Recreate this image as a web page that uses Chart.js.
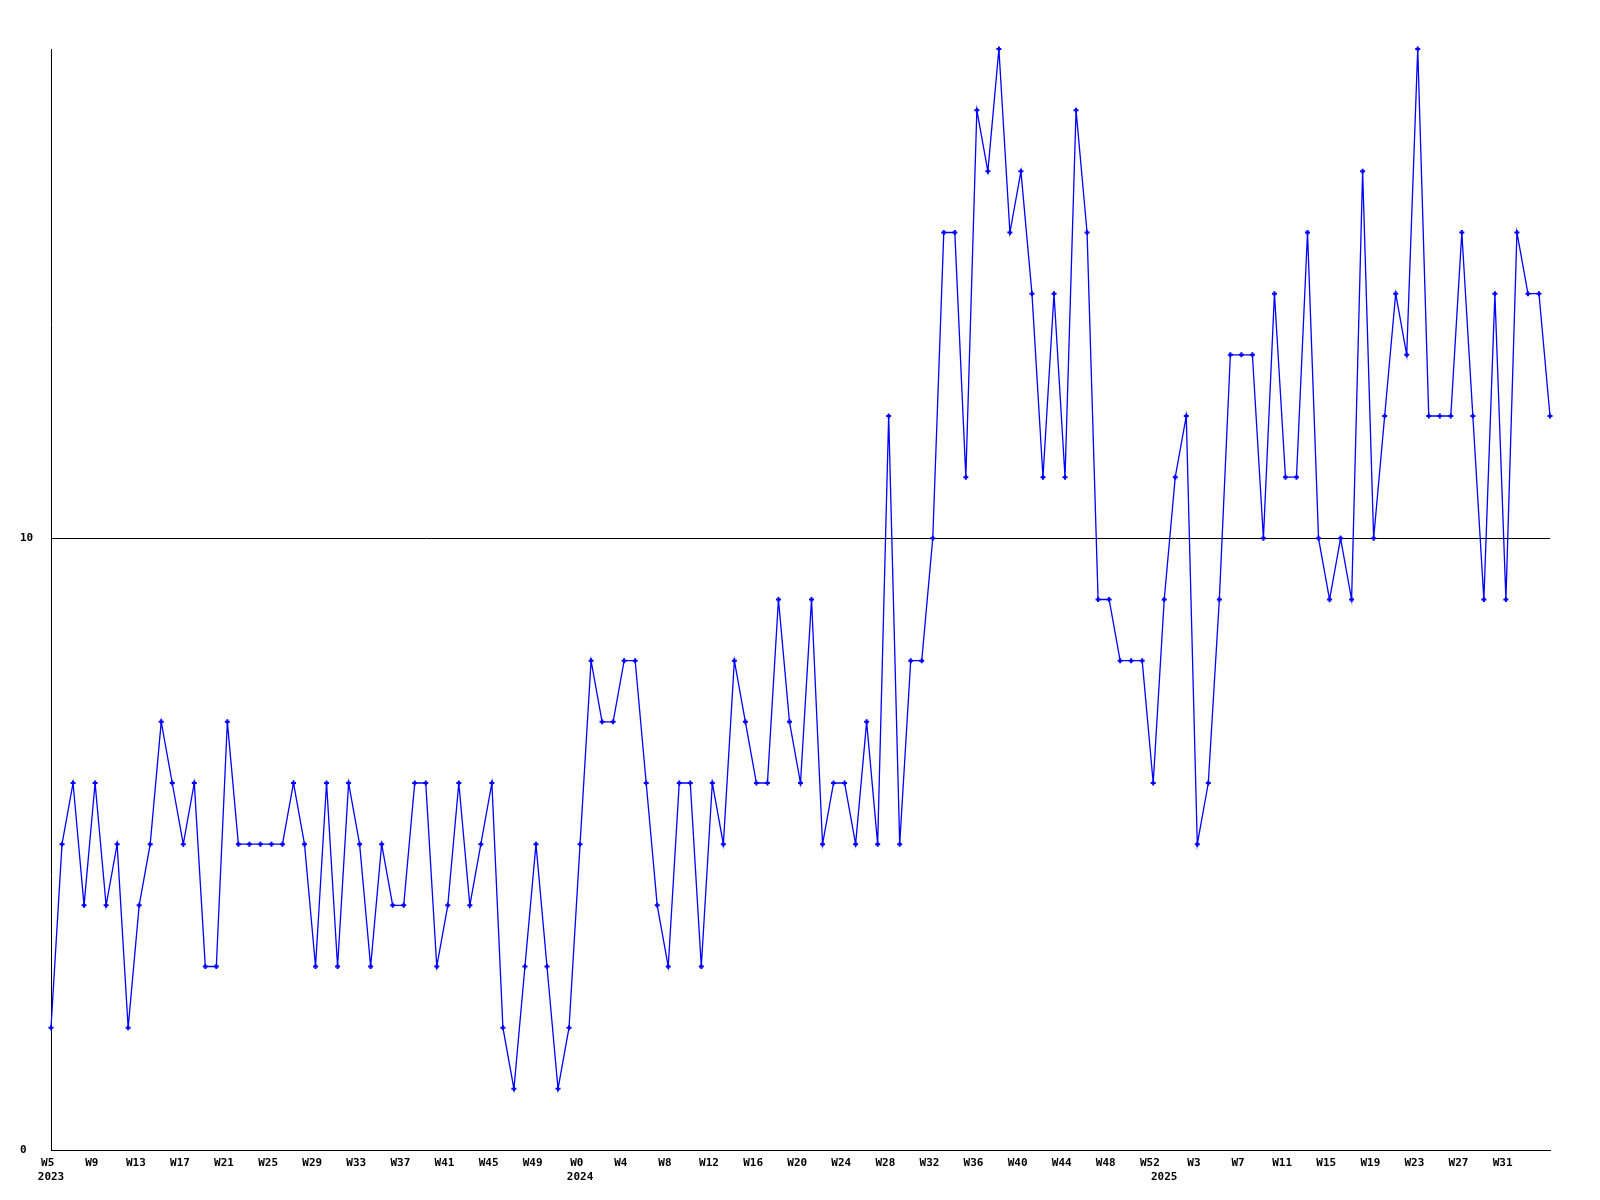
<!DOCTYPE html>
<html>
<head>
<meta charset="utf-8">
<script src="https://cdn.jsdelivr.net/npm/chart.js@4/dist/chart.umd.min.js"></script>
<style>
    body { margin: 0; background: #fff; }
    #myChart { display: block; }
</style>
</head>
<body>
<canvas id="myChart" width="1600" height="1200"></canvas>
<script>
const years = ['2023', '2024', '2025'];

const weeks2023 = ['W5', 'W6', 'W7', 'W8', 'W9', 'W10', 'W11', 'W12', 'W13', 'W14', 'W15', 'W16',
    'W17', 'W18', 'W19', 'W20', 'W21', 'W22', 'W23', 'W24', 'W25', 'W26', 'W27', 'W28',
    'W29', 'W30', 'W31', 'W32', 'W33', 'W34', 'W35', 'W36', 'W37', 'W38', 'W39', 'W40',
    'W41', 'W42', 'W43', 'W44', 'W45', 'W46', 'W47', 'W48', 'W49', 'W50', 'W51', 'W52'];
const weeks2024 = ['W0', 'W1', 'W2', 'W3', 'W4', 'W5', 'W6', 'W7', 'W8', 'W9', 'W10', 'W11', 'W12',
    'W13', 'W14', 'W15', 'W16', 'W17', 'W18', 'W19', 'W20', 'W21', 'W22', 'W23', 'W24',
    'W25', 'W26', 'W27', 'W28', 'W29', 'W30', 'W31', 'W32', 'W33', 'W34', 'W35', 'W36',
    'W37', 'W38', 'W39', 'W40', 'W41', 'W42', 'W43', 'W44', 'W45', 'W46', 'W47', 'W48',
    'W49', 'W50', 'W51', 'W52'];
const weeks2025 = ['W0', 'W1', 'W2', 'W3', 'W4', 'W5', 'W6', 'W7', 'W8', 'W9', 'W10', 'W11', 'W12',
    'W13', 'W14', 'W15', 'W16', 'W17', 'W18', 'W19', 'W20', 'W21', 'W22', 'W23', 'W24',
    'W25', 'W26', 'W27', 'W28', 'W29', 'W30', 'W31', 'W32', 'W33', 'W34', 'W35'];

const values2023 = [2, 5, 6, 4, 6, 4, 5, 2, 4, 5, 7, 6, 5, 6, 3, 3, 7, 5, 5, 5, 5, 5, 6, 5,
    3, 6, 3, 6, 5, 3, 5, 4, 4, 6, 6, 3, 4, 6, 4, 5, 6, 2, 1, 3, 5, 3, 1, 2];
const values2024 = [5, 8, 7, 7, 8, 8, 6, 4, 3, 6, 6, 3, 6, 5, 8, 7, 6, 6, 9, 7, 6, 9, 5, 6,
    6, 5, 7, 5, 12, 5, 8, 8, 10, 15, 15, 11, 17, 16, 18, 15, 16, 14, 11, 14, 11, 17, 15, 9,
    9, 8, 8, 8, 6];
const values2025 = [9, 11, 12, 5, 6, 9, 13, 13, 13, 10, 14, 11, 11, 15, 10, 9, 10, 9, 16, 10,
    12, 14, 13, 18, 12, 12, 12, 15, 12, 9, 14, 9, 15, 14, 14, 12];

const yTicks = [0, 10];
const yMax = 18;
const labelEvery = 4;

const labels = [...weeks2023, ...weeks2024, ...weeks2025];
const values = [...values2023, ...values2024, ...values2025];
const yearStarts = {
    0: years[0],
    [weeks2023.length]: years[1],
    [weeks2023.length + weeks2024.length]: years[2]
};

const tickFont = { family: '"DejaVu Sans Mono", "Liberation Mono", monospace', size: 11, weight: 'bold', lineHeight: 1.3 };

const ctx = document.getElementById('myChart').getContext('2d');

const chart = new Chart(ctx, {
    type: 'line',
    data: {
        labels: labels,
        datasets: [
            {
                data: values,
                borderColor: '#0000ff',
                backgroundColor: '#0000ff',
                borderWidth: 1.3,
                tension: 0,
                pointStyle: 'cross',
                pointRadius: 2.5,
                pointBorderWidth: 2,
                pointBorderColor: '#0000ff',
                clip: false
            }
        ]
    },
    options: {
        responsive: false,
        animation: false,
        devicePixelRatio: 1,
        layout: {
            padding: { left: 20, right: 50, top: 49, bottom: 0 }
        },
        scales: {
            x: {
                offset: false,
                grid: { display: false, drawTicks: false },
                border: { display: true, color: '#000', width: 1 },
                afterFit: (scale) => { scale.height = 50; },
                ticks: {
                    autoSkip: false,
                    maxRotation: 0,
                    padding: 6,
                    color: '#000',
                    font: tickFont,
                    callback: (value, index) => {
                        // trailing space nudges the week text a little left of the point, like the original
                        const week = (index % labelEvery === 0 && index < labels.length - 1) ? labels[index] + ' ' : '';
                        const year = yearStarts[index];
                        if (year) {
                            return [week, year];
                        }
                        return week || null;
                    }
                }
            },
            y: {
                min: 0,
                max: yMax,
                afterBuildTicks: (scale) => {
                    scale.ticks = yTicks.map(v => ({ value: v }));
                },
                afterFit: (scale) => { scale.width = 31; },
                grid: {
                    color: '#000',
                    lineWidth: 1,
                    drawTicks: false
                },
                border: { display: true, color: '#000', width: 1 },
                ticks: {
                    crossAlign: 'far',
                    padding: 0,
                    color: '#000',
                    font: tickFont
                }
            }
        },
        plugins: {
            legend: { display: false },
            tooltip: { enabled: false }
        }
    }
});
</script>
</body>
</html>
